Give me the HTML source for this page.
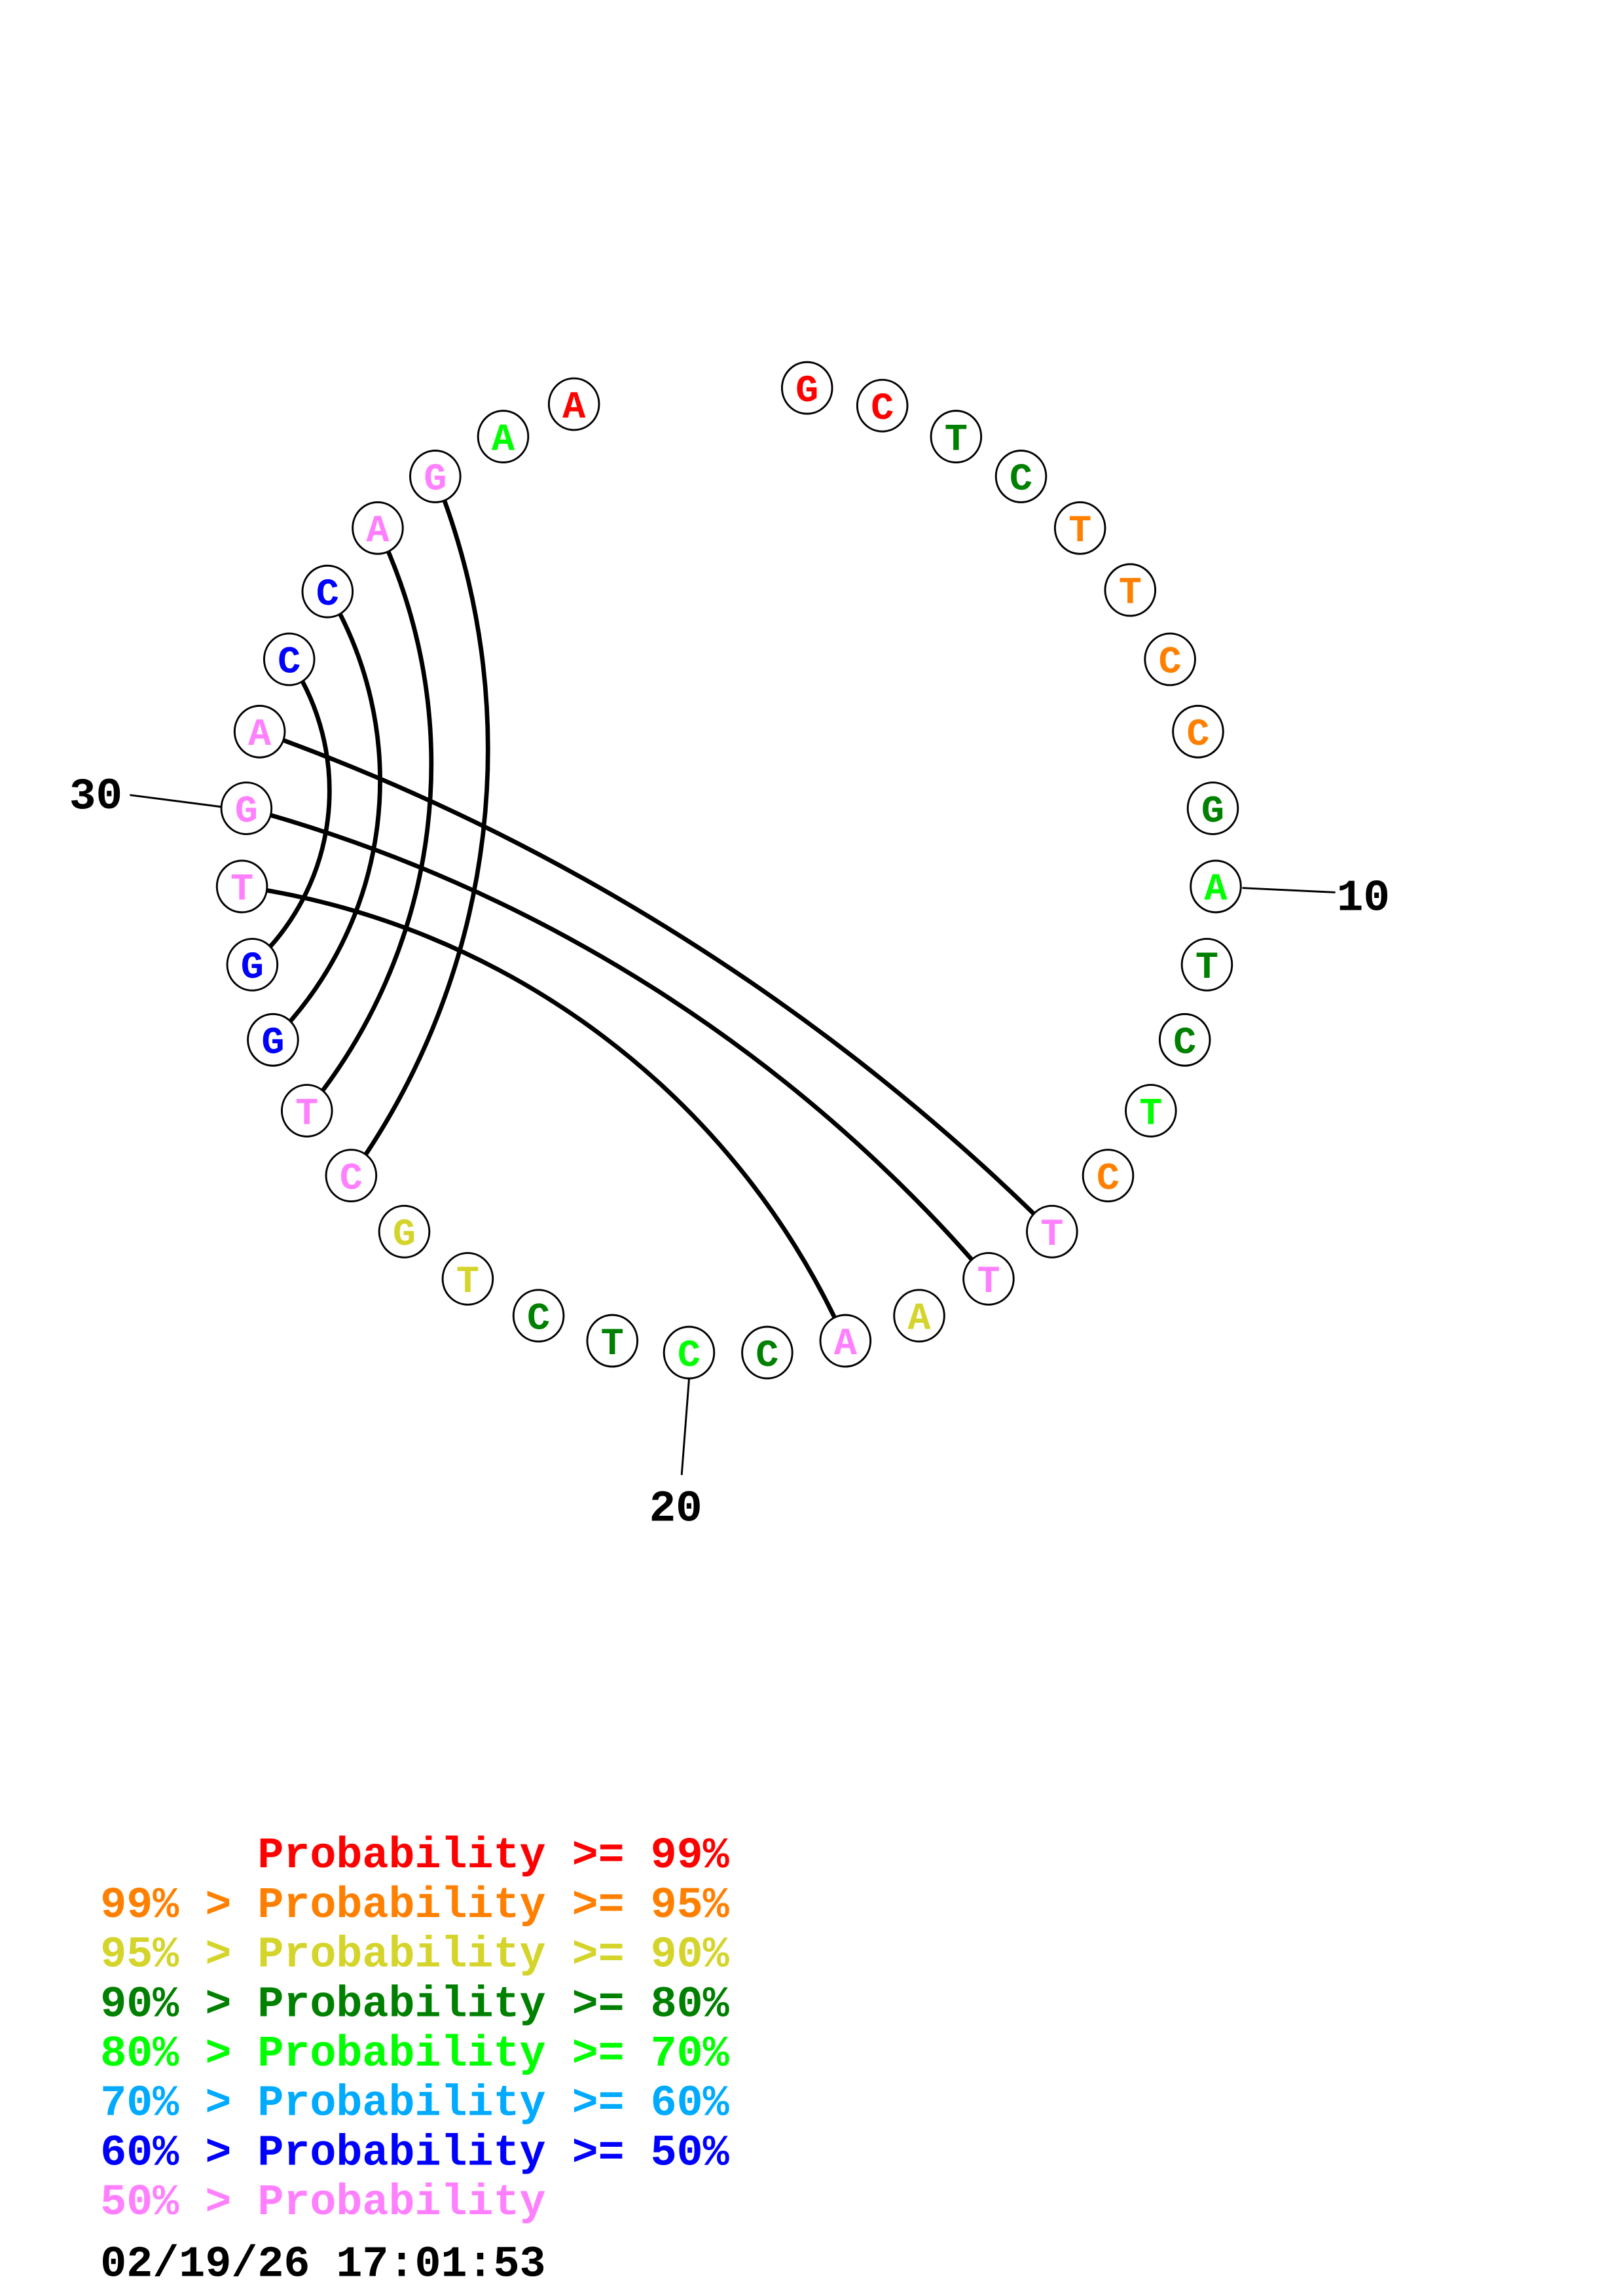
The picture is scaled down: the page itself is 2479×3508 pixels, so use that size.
<!DOCTYPE html>
<html><head><meta charset="utf-8"><style>
html,body{margin:0;padding:0;background:#fff;}
svg{display:block;}
text{font-family:"Liberation Mono",monospace;font-weight:bold;white-space:pre;}
</style></head><body>
<svg width="2479" height="3508" viewBox="0 0 1100 1556.6" xmlns="http://www.w3.org/2000/svg">
<g fill="none" stroke="#000" stroke-width="3">
<path d="M295,323 A497,497 0 0 1 238,797"/>
<path d="M256,358 A370,370 0 0 1 208,753"/>
<path d="M222,401 A249,249 0 0 1 185,705"/>
<path d="M196,447 A159,159 0 0 1 171,654"/>
<path d="M176,496 A1458,1458 0 0 1 713,835"/>
<path d="M167,548 A1012,1012 0 0 1 670,867"/>
<path d="M164,601 A529,529 0 0 1 573,909"/>
</g>
<g stroke="#000" stroke-width="1.3">
<line x1="842" y1="602" x2="905" y2="605"/>
<line x1="467" y1="935" x2="462" y2="1000"/>
<line x1="150" y1="547" x2="88" y2="539"/>
</g>
<g font-size="30" fill="#000">
<text x="906" y="617">10</text>
<text x="440" y="1031">20</text>
<text x="47" y="548">30</text>
</g>
<g stroke="#000" stroke-width="1.3" fill="#fff">
<ellipse cx="547" cy="263" rx="17" ry="17.5"/><ellipse cx="598" cy="275" rx="17" ry="17.5"/><ellipse cx="648" cy="296" rx="17" ry="17.5"/><ellipse cx="692" cy="323" rx="17" ry="17.5"/><ellipse cx="732" cy="358" rx="17" ry="17.5"/><ellipse cx="766" cy="400" rx="17" ry="17.5"/><ellipse cx="793" cy="447" rx="17" ry="17.5"/><ellipse cx="812" cy="496" rx="17" ry="17.5"/><ellipse cx="822" cy="548" rx="17" ry="17.5"/><ellipse cx="824" cy="601" rx="17" ry="17.5"/><ellipse cx="818" cy="654" rx="17" ry="17.5"/><ellipse cx="803" cy="705" rx="17" ry="17.5"/><ellipse cx="780" cy="753" rx="17" ry="17.5"/><ellipse cx="751" cy="797" rx="17" ry="17.5"/><ellipse cx="713" cy="835" rx="17" ry="17.5"/><ellipse cx="670" cy="867" rx="17" ry="17.5"/><ellipse cx="623" cy="892" rx="17" ry="17.5"/><ellipse cx="573" cy="909" rx="17" ry="17.5"/><ellipse cx="520" cy="917" rx="17" ry="17.5"/><ellipse cx="467" cy="917" rx="17" ry="17.5"/><ellipse cx="415" cy="909" rx="17" ry="17.5"/><ellipse cx="365" cy="892" rx="17" ry="17.5"/><ellipse cx="317" cy="867" rx="17" ry="17.5"/><ellipse cx="274" cy="835" rx="17" ry="17.5"/><ellipse cx="238" cy="797" rx="17" ry="17.5"/><ellipse cx="208" cy="753" rx="17" ry="17.5"/><ellipse cx="185" cy="705" rx="17" ry="17.5"/><ellipse cx="171" cy="654" rx="17" ry="17.5"/><ellipse cx="164" cy="601" rx="17" ry="17.5"/><ellipse cx="167" cy="548" rx="17" ry="17.5"/><ellipse cx="176" cy="496" rx="17" ry="17.5"/><ellipse cx="196" cy="447" rx="17" ry="17.5"/><ellipse cx="222" cy="401" rx="17" ry="17.5"/><ellipse cx="256" cy="358" rx="17" ry="17.5"/><ellipse cx="295" cy="323" rx="17" ry="17.5"/><ellipse cx="341" cy="296" rx="17" ry="17.5"/><ellipse cx="389" cy="274" rx="17" ry="17.5"/>
</g>
<g font-size="26" text-anchor="middle">
<text x="547" y="272" fill="#ff0000">G</text>
<text x="598" y="284" fill="#ff0000">C</text>
<text x="648" y="305" fill="#008000">T</text>
<text x="692" y="332" fill="#008000">C</text>
<text x="732" y="367" fill="#ff8000">T</text>
<text x="766" y="409" fill="#ff8000">T</text>
<text x="793" y="456" fill="#ff8000">C</text>
<text x="812" y="505" fill="#ff8000">C</text>
<text x="822" y="557" fill="#008000">G</text>
<text x="824" y="610" fill="#00ff00">A</text>
<text x="818" y="663" fill="#008000">T</text>
<text x="803" y="714" fill="#008000">C</text>
<text x="780" y="762" fill="#00ff00">T</text>
<text x="751" y="806" fill="#ff8000">C</text>
<text x="713" y="844" fill="#ff80ff">T</text>
<text x="670" y="876" fill="#ff80ff">T</text>
<text x="623" y="901" fill="#d4d42b">A</text>
<text x="573" y="918" fill="#ff80ff">A</text>
<text x="520" y="926" fill="#008000">C</text>
<text x="467" y="926" fill="#00ff00">C</text>
<text x="415" y="918" fill="#008000">T</text>
<text x="365" y="901" fill="#008000">C</text>
<text x="317" y="876" fill="#d4d42b">T</text>
<text x="274" y="844" fill="#d4d42b">G</text>
<text x="238" y="806" fill="#ff80ff">C</text>
<text x="208" y="762" fill="#ff80ff">T</text>
<text x="185" y="714" fill="#0000ff">G</text>
<text x="171" y="663" fill="#0000ff">G</text>
<text x="164" y="610" fill="#ff80ff">T</text>
<text x="167" y="557" fill="#ff80ff">G</text>
<text x="176" y="505" fill="#ff80ff">A</text>
<text x="196" y="456" fill="#0000ff">C</text>
<text x="222" y="410" fill="#0000ff">C</text>
<text x="256" y="367" fill="#ff80ff">A</text>
<text x="295" y="332" fill="#ff80ff">G</text>
<text x="341" y="305" fill="#00ff00">A</text>
<text x="389" y="283" fill="#ff0000">A</text>
</g>
<g font-size="29.6">
<text x="68" y="1266" fill="#ff0000">      Probability &gt;= 99%</text>
<text x="68" y="1299.6" fill="#ff8000">99% &gt; Probability &gt;= 95%</text>
<text x="68" y="1333.2" fill="#d4d42b">95% &gt; Probability &gt;= 90%</text>
<text x="68" y="1366.8" fill="#008000">90% &gt; Probability &gt;= 80%</text>
<text x="68" y="1400.4" fill="#00ff00">80% &gt; Probability &gt;= 70%</text>
<text x="68" y="1434" fill="#00aaff">70% &gt; Probability &gt;= 60%</text>
<text x="68" y="1467.6" fill="#0000ff">60% &gt; Probability &gt;= 50%</text>
<text x="68" y="1501.2" fill="#ff80ff">50% &gt; Probability</text>
<text x="68" y="1543" fill="#000">02/19/26 17:01:53</text>
</g>
</svg>
</body></html>
